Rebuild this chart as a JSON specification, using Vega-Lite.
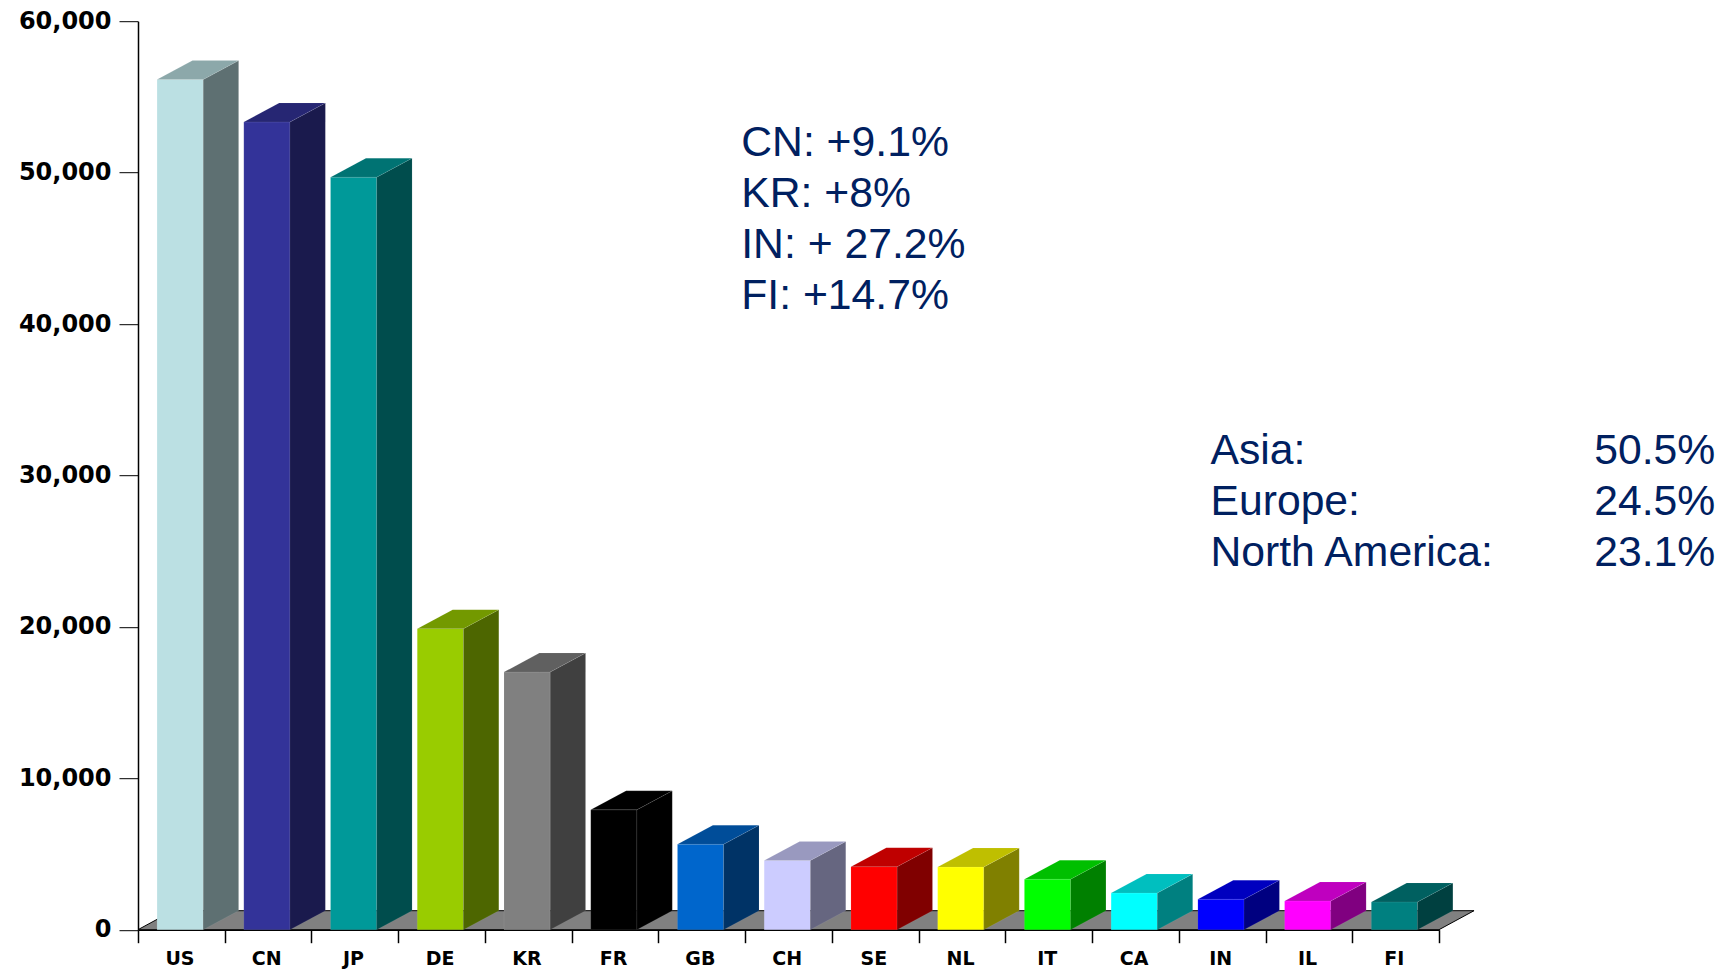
{
"$schema":"https://vega.github.io/schema/vega-lite/v6.json",
"width":1301,"height":908.5,
"autosize":"none",
"padding":{"left":138,"top":21.2,"right":279,"bottom":39.3},
"background":"white",
"config":{"view":{"stroke":null},
 "axisX":{"labels":false,"grid":false,"tickSize":13,"tickWidth":1.5,"tickColor":"#000000","domainColor":"#000000","domainWidth":1.5,"zindex":1,"title":null},
 "axisY":{"format":",d","grid":false,"tickSize":19,"tickWidth":1,"tickColor":"#000000","domainColor":"#000000","domainWidth":1.5,"labelFont":"DejaVu Sans","labelFontWeight":"bold","labelFontSize":24,"labelColor":"#000000","labelPadding":8,"zindex":1,"title":null}},
"data":{"values":[
{"code":"US","value":56142},{"code":"CN","value":53345},{"code":"JP","value":49702},{"code":"DE","value":19883},{"code":"KR","value":17014},
{"code":"FR","value":7914},{"code":"GB","value":5641},{"code":"CH","value":4568},{"code":"SE","value":4162},{"code":"NL","value":4138},
{"code":"IT","value":3337},{"code":"CA","value":2423},{"code":"IN","value":2013},{"code":"IL","value":1899},{"code":"FI","value":1836}]},
"transform":[
{"window":[{"op":"row_number","as":"rank"}],"sort":[{"field":"value","order":"descending"}]},
{"calculate":"datum.rank-1","as":"slot"},
{"calculate":"datum.slot+0.22","as":"xl"},
{"calculate":"datum.slot+0.752","as":"xr"}
],
"layer":[
{"transform":[{"aggregate":[{"op":"count","as":"n"}]},
 {"calculate":"[0,0.404,datum.n,datum.n+0.404]","as":"fx"},
 {"calculate":"[0,1255,1255,1255]","as":"fhi"},
 {"calculate":"[0,0,0,1255]","as":"flo"},
 {"flatten":["fx","fhi","flo"]}],
 "mark":{"type":"area","orient":"vertical","color":"#808080","stroke":"#000000","strokeWidth":1},
 "encoding":{
 "x":{"field":"fx","type":"quantitative","scale":{"domain":[0,15],"nice":false,"zero":false},"title":null,
  "axis":{"values":[0,1,2,3,4,5,6,7,8,9,10,11,12,13,14,15]}},
 "y":{"field":"fhi","type":"quantitative","scale":{"domain":[0,60000],"nice":false},"title":null,
  "axis":{"values":[0,10000,20000,30000,40000,50000,60000]}},
 "y2":{"field":"flo"}}},
{"mark":{"type":"rect","stroke":"#ffffff","strokeWidth":0.5,"strokeOpacity":0.15},
 "encoding":{
 "x":{"field":"xl","type":"quantitative","title":null},"x2":{"field":"xr"},
 "y":{"field":"value","type":"quantitative","title":null},"y2":{"datum":0},
 "color":{"field":"code","type":"nominal","legend":null,"scale":{"domain":["US","CN","JP","DE","KR","FR","GB","CH","SE","NL","IT","CA","IN","IL","FI"],"range":["#BBE0E3","#333399","#009999","#99CC00","#808080","#000000","#0066CC","#CCCCFF","#FF0000","#FFFF00","#00FF00","#00FFFF","#0000FF","#FF00FF","#008080"]}}}},
{"transform":[
 {"calculate":"[datum.xr,datum.xr+0.408]","as":"sx"},
 {"calculate":"[datum.value,datum.value+1255]","as":"shi"},
 {"calculate":"[0,1255]","as":"slo"},
 {"flatten":["sx","shi","slo"]}],
 "mark":{"type":"area","orient":"vertical","stroke":"#ffffff","strokeWidth":0.5,"strokeOpacity":0.15},
 "encoding":{
 "x":{"field":"sx","type":"quantitative","title":null},
 "y":{"field":"shi","type":"quantitative","title":null},"y2":{"field":"slo"},
 "color":{"field":"code","type":"nominal","legend":null,"scale":{"domain":["US","CN","JP","DE","KR","FR","GB","CH","SE","NL","IT","CA","IN","IL","FI"],"range":["#5E7072","#1A1A4D","#004D4D","#4D6600","#404040","#000000","#003366","#666680","#800000","#808000","#008000","#008080","#000080","#800080","#004040"]}}}},
{"transform":[
 {"calculate":"[datum.xl,datum.xl+0.408,datum.xr,datum.xr+0.408]","as":"tx"},
 {"calculate":"[datum.value,datum.value+1255,datum.value+1255,datum.value+1255]","as":"thi"},
 {"calculate":"[datum.value,datum.value,datum.value,datum.value+1255]","as":"tlo"},
 {"flatten":["tx","thi","tlo"]}],
 "mark":{"type":"area","orient":"vertical","stroke":"#ffffff","strokeWidth":0.5,"strokeOpacity":0.15},
 "encoding":{
 "x":{"field":"tx","type":"quantitative","title":null},
 "y":{"field":"thi","type":"quantitative","title":null},"y2":{"field":"tlo"},
 "color":{"field":"code","type":"nominal","legend":null,"scale":{"domain":["US","CN","JP","DE","KR","FR","GB","CH","SE","NL","IT","CA","IN","IL","FI"],"range":["#8CA8AA","#262673","#007373","#739900","#606060","#000000","#004D99","#9999BF","#BF0000","#BFBF00","#00BF00","#00BFBF","#0000BF","#BF00BF","#006060"]}}}},
{"transform":[{"calculate":"datum.slot+0.484","as":"lx"}],
 "mark":{"type":"text","font":"DejaVu Sans","fontWeight":"bold","fontSize":19,"color":"#000000","baseline":"alphabetic","align":"center","dy":35},
 "encoding":{
 "x":{"field":"lx","type":"quantitative","title":null},
 "y":{"datum":0,"type":"quantitative","title":null},
 "text":{"field":"code","type":"nominal"}}},
{"data":{"values":[{"lines":["CN: +9.1%","KR: +8%","IN: + 27.2%","FI: +14.7%"]}]},
 "transform":[],
 "mark":{"type":"text","font":"Liberation Sans","fontSize":42.7,"color":"#002060","align":"left","baseline":"alphabetic","lineHeight":51},
 "encoding":{"x":{"datum":6.955,"type":"quantitative","title":null},"y":{"datum":51115,"type":"quantitative","title":null},"text":{"field":"lines","type":"nominal"}}},
{"data":{"values":[{"lines":["Asia:","Europe:","North America:"]}]},
 "transform":[],
 "mark":{"type":"text","font":"Liberation Sans","fontSize":42.7,"color":"#002060","align":"left","baseline":"alphabetic","lineHeight":51},
 "encoding":{"x":{"datum":12.365,"type":"quantitative","title":null},"y":{"datum":30755,"type":"quantitative","title":null},"text":{"field":"lines","type":"nominal"}}},
{"data":{"values":[{"lines":["50.5%","24.5%","23.1%"]}]},
 "transform":[],
 "mark":{"type":"text","font":"Liberation Sans","fontSize":42.7,"color":"#002060","align":"left","baseline":"alphabetic","lineHeight":51},
 "encoding":{"x":{"datum":16.79,"type":"quantitative","title":null},"y":{"datum":30755,"type":"quantitative","title":null},"text":{"field":"lines","type":"nominal"}}}
],
"resolve":{"scale":{"color":"independent"}}
}
